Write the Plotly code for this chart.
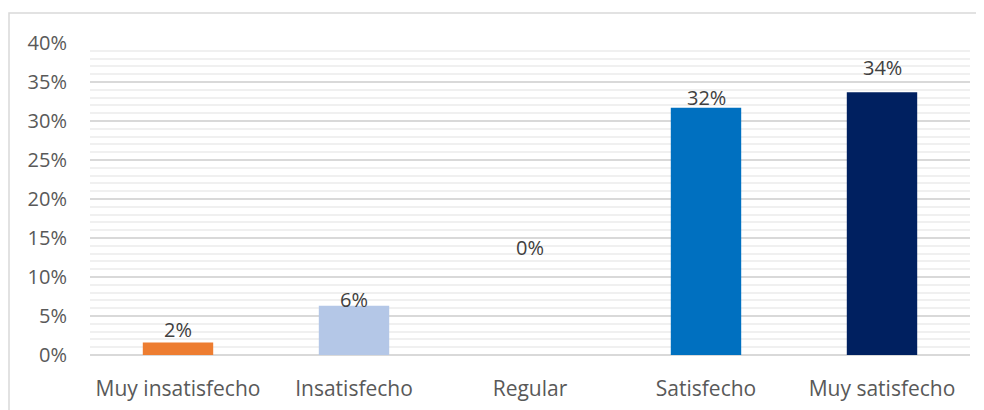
import plotly.graph_objects as go

categories = ["Muy insatisfecho", "Insatisfecho", "Regular", "Satisfecho", "Muy satisfecho"]
values = [0.016, 0.063, 0.0, 0.317, 0.337]
bar_colors = ["#ED7D31", "#B4C7E7", "#A5A5A5", "#0070C0", "#002060"]
# pixel offsets of the data labels above each bar top (as placed in the original)
label_shift = [13, 6, 108, 10, 25]
ytick_vals = [0, 0.05, 0.10, 0.15, 0.20, 0.25, 0.30, 0.35, 0.40]
ytick_text = ["0%", "5%", "10%", "15%", "20%", "25%", "30%", "35%", "40%"]

FONT = "Open Sans, Liberation Sans, sans-serif"

fig = go.Figure()
fig.add_trace(go.Bar(
    x=categories, y=values,
    marker=dict(color=bar_colors, line=dict(width=0)),
    width=0.4,
    hoverinfo="x+y",
))

for c, v, s in zip(categories, values, label_shift):
    fig.add_annotation(
        x=c, y=v, yshift=s, text=f"{round(v*100)}%",
        showarrow=False, xanchor="center", yanchor="middle",
        font=dict(family=FONT, size=20, color="#404040"),
    )

OFF = 8  # browser body margin
W, H = 984 - OFF, 410 - OFF
L, R, T, B = 90 - OFF, 14, 43 - OFF, 55
pw, ph = W - L - R, H - T - B
fig.add_shape(
    type="rect", xref="paper", yref="paper",
    x0=(9 - OFF - L) / pw, x1=1 + 40 / pw,
    y0=-(B + 40) / ph, y1=1 + (T - (13 - OFF)) / ph,
    line=dict(color="#D9D9D9", width=1.5), fillcolor="rgba(0,0,0,0)", layer="below",
)

fig.update_layout(
    width=W, height=H,
    margin=dict(l=L, r=R, t=T, b=B),
    plot_bgcolor="white", paper_bgcolor="white",
    showlegend=False,
    bargap=0.6,
    font=dict(family=FONT, size=20, color="#595959"),
    xaxis=dict(
        showgrid=False, showline=False, zeroline=False, automargin=False,
        ticks="", ticklabelstandoff=19,
        tickfont=dict(family=FONT, size=21, color="#595959"),
    ),
    yaxis=dict(
        range=[0, 0.40], automargin=False,
        tickvals=ytick_vals, ticktext=ytick_text,
        showgrid=True, gridcolor="#D9D9D9", gridwidth=1.5,
        minor=dict(dtick=0.01, showgrid=True, gridcolor="#F0F0F0", gridwidth=1.5),
        zeroline=True, zerolinecolor="#D9D9D9", zerolinewidth=1.5,
        showline=False, ticks="", ticklabelstandoff=22,
        tickfont=dict(family=FONT, size=20, color="#595959"),
    ),
)

fig.write_html("out.html")
